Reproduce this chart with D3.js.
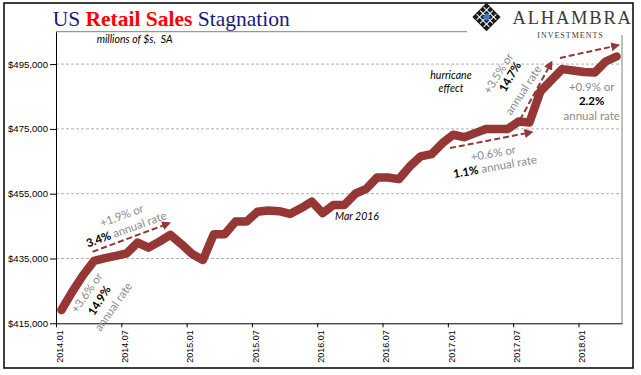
<!DOCTYPE html>
<html>
<head>
<meta charset="utf-8">
<script src="https://cdn.jsdelivr.net/npm/d3@7"></script>
<style>
  body { margin: 0; background: #fff; }
  svg { display: block; }
</style>
</head>
<body>
<svg id="drawing_region"></svg>
<script>
// monthly retail sales, millions of $, 2014.01 - 2018.04
const values = [419100, 424800, 429900, 434250, 435100, 435800, 436600, 439900, 438350, 440200, 442300, 439500,
                436400, 434550, 442500, 442500, 446400, 446400, 449400, 449800, 449600, 448750, 450500, 452550,
                449000, 451550, 451550, 455000, 456500, 460000, 460000, 459500, 463400, 466500, 467200, 470600,
                473200, 472450, 473700, 474950, 475000, 474950, 477300, 477000, 486550, 490000, 493450, 493000,
                492550, 492400, 495800, 497350];
const tickLabels = ['2014.01', '2014.07', '2015.01', '2015.07', '2016.01', '2016.07', '2017.01', '2017.07', '2018.01'];
const tickMonths = [0, 6, 12, 18, 24, 30, 36, 42, 48];
const yTicks = [415000, 435000, 455000, 475000, 495000];
const yDomain = [415000, 505000];

// trend arrows: [month, value] start and end
const arrows = [
    [[3.37, 437100], [10.26, 445700]],
    [[36.2, 469100], [43.55, 473900]],
    [[42.63, 477800], [45.45, 495100]],
    [[46.3, 496900], [51.5, 500700]]
];

const width = 641, height = 375;
const margin = {top: 31.7, right: 19, bottom: 51.7, left: 56};
const red = '#953735';
const grey = '#8c8c8c';

const svg = d3.select('#drawing_region')
    .attr('width', width)
    .attr('height', height);

const x = d3.scaleLinear()
    .domain([0, values.length])
    .range([margin.left, width - margin.right]);

const y = d3.scaleLinear()
    .domain(yDomain)
    .range([height - margin.bottom, margin.top]);

// outer frame
svg.append('rect')
    .attr('x', 4).attr('y', 3)
    .attr('width', 629).attr('height', 365)
    .attr('fill', 'none')
    .attr('stroke', '#000')
    .attr('stroke-width', 1.5);

// grid lines
svg.append('g').selectAll('line')
    .data(yTicks.slice(1))
    .join('line')
    .attr('x1', x(0)).attr('x2', x(values.length))
    .attr('y1', d => y(d)).attr('y2', d => y(d))
    .attr('stroke', '#b0b0b0')
    .attr('stroke-dasharray', '3,2');

// top and right plot border
svg.append('line')
    .attr('x1', x(0)).attr('x2', 467)
    .attr('y1', y(yDomain[1])).attr('y2', y(yDomain[1]))
    .attr('stroke', '#808080');
svg.append('line')
    .attr('x1', x(values.length)).attr('x2', x(values.length))
    .attr('y1', 35).attr('y2', y(yDomain[0]))
    .attr('stroke', '#808080');

// axes
const yaxis = d3.axisLeft(y)
    .tickValues(yTicks)
    .tickFormat(d3.format('$,'))
    .tickSize(6)
    .tickSizeOuter(0);

const ygroup = svg.append('g')
    .attr('transform', `translate(${margin.left}, 0)`)
    .call(yaxis);
ygroup.selectAll('text')
    .attr('font-family', 'Liberation Sans, Arial, sans-serif')
    .attr('font-size', 9.6)
    .attr('fill', '#000')
    .attr('x', -8);
ygroup.selectAll('line, path').attr('stroke', '#000');

const xaxis = d3.axisBottom(x)
    .tickValues(tickMonths)
    .tickFormat((d, i) => tickLabels[i])
    .tickSize(4)
    .tickSizeOuter(0);

const xgroup = svg.append('g')
    .attr('transform', `translate(0, ${height - margin.bottom})`)
    .call(xaxis);
xgroup.selectAll('text')
    .attr('font-family', 'Liberation Sans, Arial, sans-serif')
    .attr('font-size', 9)
    .attr('fill', '#000')
    .attr('transform', 'rotate(-90)')
    .attr('text-anchor', 'end')
    .attr('x', -7)
    .attr('y', 3)
    .attr('dy', '0.35em');
xgroup.selectAll('line, path').attr('stroke', '#000');

// the series line
const line = d3.line()
    .x((d, i) => x(i + 0.5))
    .y(d => y(d));

svg.append('path')
    .datum(values)
    .attr('d', line)
    .attr('fill', 'none')
    .attr('stroke', red)
    .attr('stroke-width', 8.5)
    .attr('stroke-linejoin', 'round')
    .attr('stroke-linecap', 'round');

// dashed arrows
svg.append('defs').append('marker')
    .attr('id', 'head')
    .attr('viewBox', '0 0 10 10')
    .attr('refX', 6).attr('refY', 5)
    .attr('markerWidth', 9).attr('markerHeight', 9)
    .attr('markerUnits', 'userSpaceOnUse')
    .attr('orient', 'auto')
    .append('path')
    .attr('d', 'M0,0 L10,5 L0,10 z')
    .attr('fill', red);

svg.append('g').selectAll('line')
    .data(arrows)
    .join('line')
    .attr('x1', d => x(d[0][0])).attr('y1', d => y(d[0][1]))
    .attr('x2', d => x(d[1][0])).attr('y2', d => y(d[1][1]))
    .attr('stroke', red)
    .attr('stroke-width', 2)
    .attr('stroke-dasharray', '6,3')
    .attr('marker-end', 'url(#head)');

// annotation texts
const annoFont = 'Lato, Liberation Sans, sans-serif';
function note(px, py, angle, parts, size) {
    const t = svg.append('text')
        .attr('transform', `translate(${px}, ${py}) rotate(${angle})`)
        .attr('text-anchor', 'middle')
        .attr('dy', '0.35em')
        .attr('font-family', annoFont)
        .attr('font-size', size || 11.5)
        .style('white-space', 'pre');
    parts.forEach(p => {
        t.append('tspan')
            .text(p[0])
            .attr('fill', p[1] ? '#000' : grey)
            .attr('font-weight', p[1] ? 'bold' : 'normal');
    });
}

note(121.7, 215.7, -20, [['+1.9% or', false]]);
note(126.3, 229.3, -20, [['3.4%', true], [' annual rate', false]]);
note(86.7, 292.7, -55, [['+3.6% or', false]]);
note(99.3, 300.5, -58, [['14.9%', true]]);
note(113.3, 306.7, -55, [['annual rate', false]]);
note(493.3, 153.3, -10, [['+0.6% or', false]]);
note(495, 166.7, -10, [['1.1%', true], [' annual rate', false]]);
note(498.3, 73.3, -58, [['+3.5% or', false]]);
note(510, 76.7, -60, [['14.7%', true]]);
note(523.3, 90, -57, [['annual rate', false]]);
note(591.7, 86.7, 0, [['+0.9% or', false]]);
note(591.7, 100.5, 0, [['2.2%', true]]);
note(591.7, 116, 0, [['annual rate', false]]);

// italic notes
svg.append('text')
    .attr('x', 451).attr('y', 79.3)
    .attr('text-anchor', 'middle')
    .attr('font-family', annoFont)
    .attr('font-style', 'italic')
    .attr('font-size', 10.5)
    .text('hurricane');
svg.append('text')
    .attr('x', 451).attr('y', 91.7)
    .attr('text-anchor', 'middle')
    .attr('font-family', annoFont)
    .attr('font-style', 'italic')
    .attr('font-size', 10.5)
    .text('effect');
svg.append('text')
    .attr('x', 335).attr('y', 220)
    .attr('font-family', annoFont)
    .attr('font-style', 'italic')
    .attr('font-size', 10.5)
    .text('Mar 2016');
svg.append('text')
    .attr('x', 96.7).attr('y', 43.3)
    .attr('font-family', annoFont)
    .attr('font-style', 'italic')
    .attr('font-size', 10.5)
    .text('millions of $s,  SA')
    .style('white-space', 'pre');

// title
const title = svg.append('text')
    .attr('x', 52.7).attr('y', 26)
    .attr('font-family', 'Liberation Serif, Times New Roman, serif')
    .attr('font-size', 21.5)
    .style('white-space', 'pre');
title.append('tspan').text('US ').attr('fill', '#1a1a80');
title.append('tspan').text('Retail Sales ').attr('fill', '#ff0000').attr('font-weight', 'bold');
title.append('tspan').text('Stagnation').attr('fill', '#1a1a80');

// logo
const logo = svg.append('g').attr('transform', 'translate(486.5, 17)');
logo.append('rect')
    .attr('x', -10).attr('y', -10).attr('width', 20).attr('height', 20)
    .attr('transform', 'rotate(45)')
    .attr('fill', '#1a1a1a');
[-5, 0, 5].forEach(o => {
    logo.append('line')
        .attr('x1', o).attr('x2', o).attr('y1', -9).attr('y2', 9)
        .attr('transform', 'rotate(45)')
        .attr('stroke', '#fff').attr('stroke-width', 1);
    logo.append('line')
        .attr('y1', o).attr('y2', o).attr('x1', -9).attr('x2', 9)
        .attr('transform', 'rotate(45)')
        .attr('stroke', '#fff').attr('stroke-width', 1);
});
logo.append('rect')
    .attr('x', -3).attr('y', -3).attr('width', 6).attr('height', 6)
    .attr('transform', 'rotate(45)')
    .attr('fill', '#3a7bc8');

svg.append('text')
    .attr('x', 512.5).attr('y', 24)
    .attr('font-family', 'Liberation Serif, Times New Roman, serif')
    .attr('font-size', 18.5)
    .attr('letter-spacing', 1.8)
    .attr('fill', '#3a3a3a')
    .text('ALHAMBRA');
svg.append('text')
    .attr('x', 570.5).attr('y', 38.3)
    .attr('text-anchor', 'middle')
    .attr('font-family', 'Liberation Serif, Times New Roman, serif')
    .attr('font-size', 8)
    .attr('letter-spacing', 1)
    .attr('fill', '#3a3a3a')
    .text('INVESTMENTS');
</script>
</body>
</html>
